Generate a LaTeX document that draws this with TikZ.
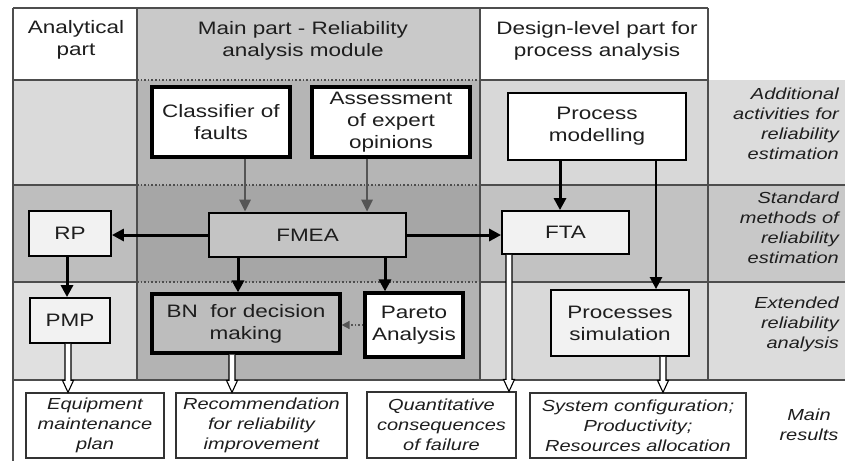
\documentclass[tikz,border=0pt]{standalone}
\usepackage{fontspec}
\setmainfont{Liberation Sans}[FakeStretch=1.25]
\usetikzlibrary{arrows.meta,calc}
\definecolor{gridline}{HTML}{4D4D4D}
\definecolor{txt}{HTML}{1E1E1E}
\definecolor{hcol}{HTML}{C9C9C9}
\definecolor{rAa}{HTML}{DADADA}
\definecolor{rAb}{HTML}{B5B5B5}
\definecolor{rAc}{HTML}{D8D8D8}
\definecolor{rAd}{HTML}{DCDCDC}
\definecolor{rBa}{HTML}{BEBEBE}
\definecolor{rBb}{HTML}{A6A6A6}
\definecolor{rBc}{HTML}{C2C2C2}
\definecolor{rBd}{HTML}{C8C8C8}
\definecolor{rCa}{HTML}{E0E0E0}
\definecolor{rCb}{HTML}{B3B3B3}
\definecolor{rCc}{HTML}{D9D9D9}
\definecolor{rCd}{HTML}{DCDCDC}
\definecolor{lightfill}{HTML}{F2F2F2}
\definecolor{fmeafill}{HTML}{C4C4C4}
\definecolor{bnfill}{HTML}{BDBDBD}
\definecolor{grayarrow}{HTML}{555555}
\newcommand{\hollowarrow}[3]{%
  \draw[hollow] let \p1=([xshift=#3]#1.south), \p2=(#2.north) in
    (\x1-3pt,\y1) -- (\x1-3pt,\y2+12pt) -- (\x1-5.5pt,\y2+12pt) -- (\x1,\y2)
    -- (\x1+5.5pt,\y2+12pt) -- (\x1+3pt,\y2+12pt) -- (\x1+3pt,\y1);}
\begin{document}
\begin{tikzpicture}[x=1pt,y=-1pt,
  mainfont/.style={font=\fontsize{18}{22}\selectfont, text=txt},
  itfont/.style={font=\fontsize{16}{20}\selectfont\itshape, text=txt},
  boxbase/.style={mainfont, align=center, inner sep=0pt, draw=black},
  thickbox/.style={boxbase, line width=3.2pt},
  medbox/.style={boxbase, line width=2.6pt},
  thinbox/.style={boxbase, line width=1.8pt},
  resbox/.style={itfont, align=center, inner sep=0pt, draw=black!80, line width=1.2pt, fill=white},
  gridl/.style={draw=gridline, line width=1.6pt},
  gridd/.style={draw=gridline, line width=1.6pt, dotted},
  blackarrow/.style={draw=black, line width=3pt, -{Triangle[length=12pt,width=12pt]}},
  grayarr/.style={draw=grayarrow, line width=2.6pt, -{Triangle[length=12pt,width=11pt]}},
  dotarr/.style={draw=grayarrow, line width=1.6pt, dotted, -{Triangle[length=8pt,width=8pt]}},
  hollow/.style={draw=black, line width=1.1pt, fill=white},
  rowlabel/.style={itfont, align=right, anchor=east, inner sep=0pt}
]
\useasboundingbox (0,0) rectangle (845,461);
\fill[white] (0,0) rectangle (845,461);
% cell fills
\fill[hcol] (137,8) rectangle (480,80);
\fill[rAa] (13,80) rectangle (137,185);
\fill[rAb] (137,80) rectangle (480,185);
\fill[rAc] (480,80) rectangle (708,185);
\fill[rAd] (708,80) rectangle (845,185);
\fill[rBa] (13,185) rectangle (137,282);
\fill[rBb] (137,185) rectangle (480,282);
\fill[rBc] (480,185) rectangle (708,282);
\fill[rBd] (708,185) rectangle (845,282);
\fill[rCa] (13,282) rectangle (137,380);
\fill[rCb] (137,282) rectangle (480,380);
\fill[rCc] (480,282) rectangle (708,380);
\fill[rCd] (708,282) rectangle (845,380);
% grid lines
\draw[gridl] (13,8) -- (708,8);
\draw[gridl] (13,8) -- (13,461);
\draw[gridl] (137,8) -- (137,380);
\draw[gridl] (480,8) -- (480,380);
\draw[gridl] (708,8) -- (708,380);
\foreach \yy in {80,185,282}{
  \draw[gridl] (13,\yy) -- (137,\yy);
  \draw[gridd] (137,\yy) -- (480,\yy);
}
\draw[gridl] (480,80) -- (708,80);
\draw[gridl] (480,185) -- (845,185);
\draw[gridl] (480,282) -- (845,282);
\draw[gridl] (13,380) -- (845,380);
% header texts
\node[mainfont, align=center] (hA) at (76,40) {Analytical\\part};
\node[mainfont, align=center] (hB) at (303,41) {Main part - Reliability\\analysis module};
\node[mainfont, align=center] (hC) at (597,41) {Design-level part for\\process analysis};
% row labels
\node[rowlabel] (lA) at (839,124) {Additional\\activities for\\reliability\\estimation};
\node[rowlabel] (lB) at (839,228) {Standard\\methods of\\reliability\\estimation};
\node[rowlabel] (lC) at (839,324) {Extended\\reliability\\analysis};
\node[itfont, align=center, inner sep=0pt] (lD) at (809,425) {Main\\results};
% boxes
\node[thickbox, fill=white, minimum width=138pt, minimum height=70pt] (cls) at (221,122) {Classifier of\\faults};
\node[thickbox, fill=white, minimum width=158pt, minimum height=70pt] (ass) at (391,122) {Assessment\\of expert\\opinions};
\node[thinbox, line width=2.2pt, fill=white, minimum width=178pt, minimum height=67pt] (pm) at (597,126.5) {Process\\modelling};
\node[medbox, fill=fmeafill, minimum width=197pt, minimum height=44pt] (fmea) at (307.5,235) {FMEA};
\node[thinbox, fill=lightfill, minimum width=82pt, minimum height=45pt] (rp) at (70,233.5) {RP};
\node[thinbox, fill=lightfill, minimum width=127pt, minimum height=43pt] (fta) at (565.5,232.5) {FTA};
\node[thinbox, fill=lightfill, minimum width=80pt, minimum height=45pt] (pmp) at (70,320.5) {PMP};
\node[thickbox, fill=bnfill, minimum width=188pt, minimum height=59pt] (bn) at (246,323.5) {BN\ \ for decision\\making};
\node[thickbox, fill=white, minimum width=98pt, minimum height=64pt] (par) at (414,325) {Pareto\\Analysis};
\node[thinbox, fill=lightfill, minimum width=138pt, minimum height=66pt] (ps) at (620,323) {Processes\\simulation};
% results
\node[resbox, minimum width=138pt, minimum height=65pt] (r1) at (95,425.5) {Equipment\\maintenance\\plan};
\node[resbox, minimum width=171pt, minimum height=65pt] (r2) at (261.5,425.5) {Recommendation\\for reliability\\improvement};
\node[resbox, minimum width=149pt, minimum height=66pt] (r3) at (441.5,425) {Quantitative\\consequences\\of failure};
\node[resbox, minimum width=216pt, minimum height=65pt] (r4) at (638,425.5) {System configuration;\\Productivity;\\Resources allocation};
% arrows
\draw[grayarr] ([xshift=24pt]cls.south) -- ([xshift=24pt]cls.south |- fmea.north);
\draw[grayarr] ([xshift=-24pt]ass.south) -- ([xshift=-24pt]ass.south |- fmea.north);
\draw[blackarrow] (fmea.west) -- (fmea.west -| rp.east);
\draw[blackarrow] (fmea.east) -- (fmea.east -| fta.west);
\draw[blackarrow] ([xshift=-37pt]pm.south) -- ([xshift=-37pt]pm.south |- fta.north);
\draw[blackarrow, line width=2.5pt] ([xshift=59pt]pm.south) -- ([xshift=59pt]pm.south |- ps.north);
\draw[blackarrow] ([xshift=-69.5pt]fmea.south) -- ([xshift=-69.5pt]fmea.south |- bn.north);
\draw[blackarrow] ([xshift=77.5pt]fmea.south) -- ([xshift=77.5pt]fmea.south |- par.north);
\draw[blackarrow] ([xshift=-3pt]rp.south) -- ([xshift=-3pt]rp.south |- pmp.north);
\draw[dotarr] (par.west) -- (par.west -| bn.east);
% hollow arrows
\hollowarrow{pmp}{r1}{-2pt}
\hollowarrow{bn}{r2}{-14pt}
\hollowarrow{fta}{r3}{-56.5pt}
\hollowarrow{ps}{r4}{43pt}
\end{tikzpicture}
\end{document}
